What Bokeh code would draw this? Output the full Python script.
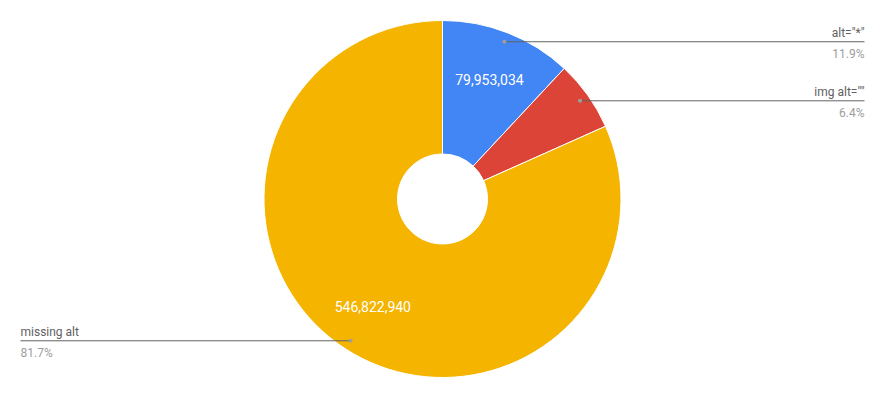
import math
from bokeh.plotting import figure
from bokeh.models import ColumnDataSource, Range1d
from bokeh.core.properties import value
from bokeh.embed import file_html
from bokeh.resources import INLINE

# ---- data ----
categories = ['alt="*"', 'img alt=""', 'missing alt']
counts = [79953034, 42700000, 546822940]
percent_labels = ["11.9%", "6.4%", "81.7%"]
value_labels = ["79,953,034", "", "546,822,940"]
colors = ["#4285F4", "#DB4437", "#F4B400"]

W, H = 868, 381
p = figure(width=W, height=H, output_backend="svg", toolbar_location=None,
           x_range=Range1d(0, W), y_range=Range1d(0, H), min_border=0)
p.axis.visible = False
p.grid.visible = False
p.outline_line_color = None
p.background_fill_color = "white"
p.border_fill_color = "white"

cx, cy = 442, H - 198.5
r_out, r_in = 178.5, 45
total = float(sum(counts))
fracs = [c / total for c in counts]
starts, ends, mids = [], [], []
cum = 0.0
for f in fracs:
    s = math.pi / 2 - cum * 2 * math.pi
    e = math.pi / 2 - (cum + f) * 2 * math.pi
    starts.append(s); ends.append(e); mids.append((s + e) / 2)
    cum += f

src = ColumnDataSource(dict(start=starts, end=ends, color=colors))
p.annular_wedge(x=cx, y=cy, inner_radius=r_in, outer_radius=r_out,
                start_angle="start", end_angle="end", direction="clock",
                fill_color="color", line_color="white", line_width=1, source=src)

# value labels inside slices
vr = 128
vx = [cx + vr * math.cos(m) for m in mids]
vy = [cy + vr * math.sin(m) for m in mids]
p.text(x=vx, y=vy, text=value_labels, text_color="white",
       text_font=value("Roboto"), text_font_size="14px",
       text_align="center", text_baseline="middle")

# leader lines and legend labels
dr = 169
dot_x = [cx + dr * math.cos(m) for m in mids]
dot_y = [cy + dr * math.sin(m) for m in mids]
left_x, right_x = 20, 864
for i in range(len(categories)):
    if math.cos(mids[i]) >= 0:
        end_x, align = right_x, "right"
    else:
        end_x, align = left_x, "left"
    p.line([dot_x[i], end_x], [dot_y[i], dot_y[i]], line_color="#636363", line_width=1)
    p.text(x=[end_x], y=[dot_y[i] + 2], text=[categories[i]], text_color="#616161",
           text_font=value("Roboto"), text_font_size="12px",
           text_align=align, text_baseline="bottom")
    p.text(x=[end_x], y=[dot_y[i] - 5], text=[percent_labels[i]], text_color="#9e9e9e",
           text_font=value("Roboto"), text_font_size="12px",
           text_align=align, text_baseline="top")
p.scatter(x=dot_x, y=dot_y, size=4, fill_color="#9e9e9e", line_color=None)

open("out.html", "w").write(file_html(p, INLINE))
